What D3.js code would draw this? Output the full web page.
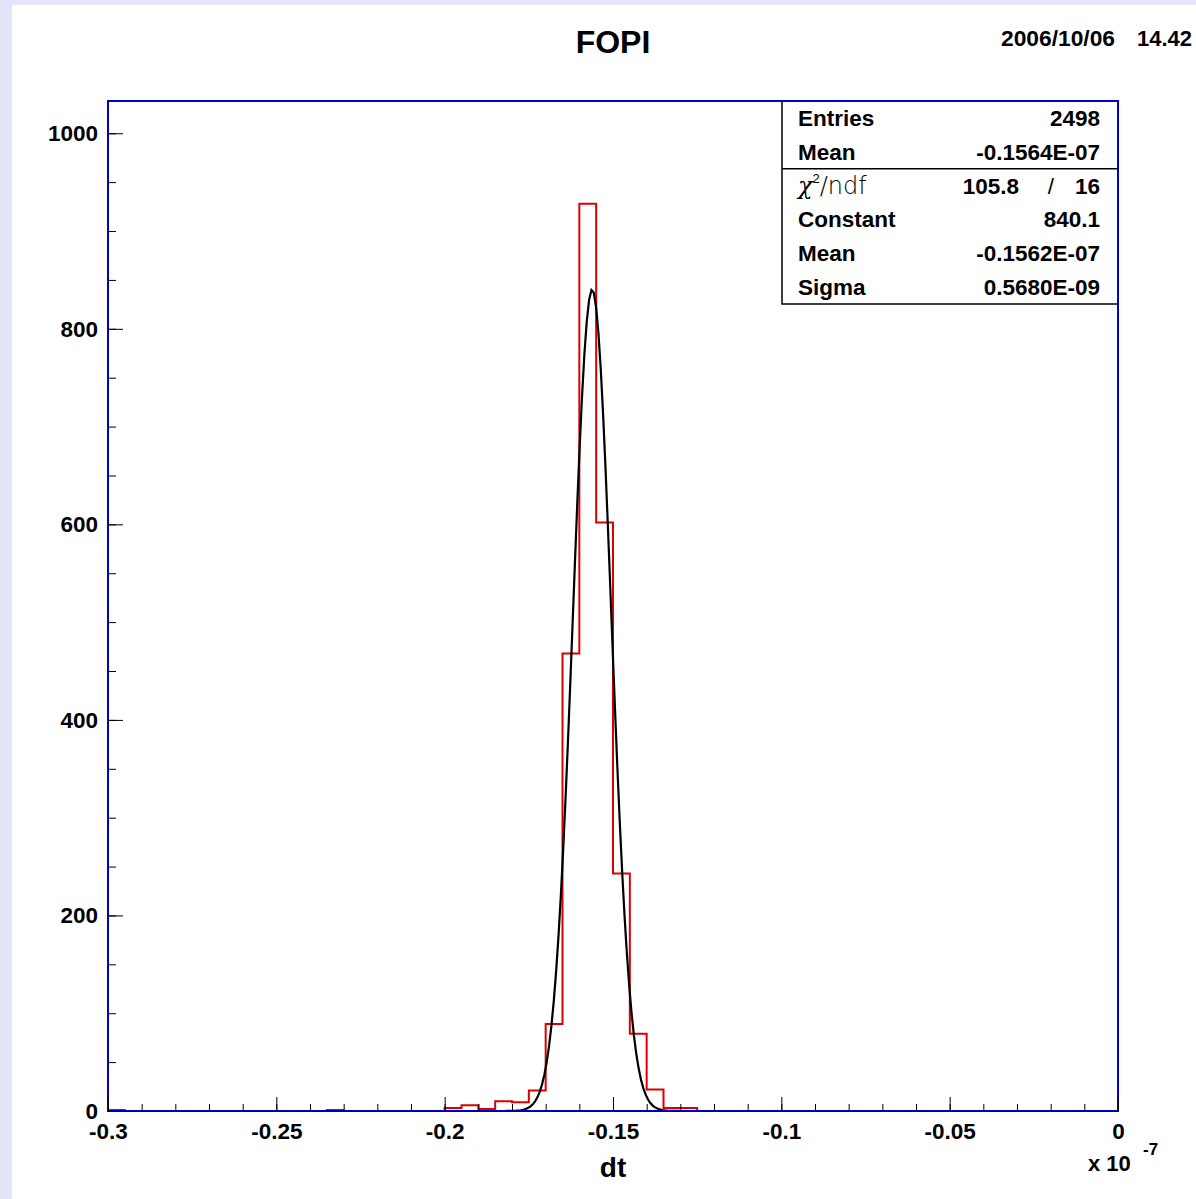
<!DOCTYPE html>
<html>
<head>
<meta charset="utf-8">
<script src="https://cdn.jsdelivr.net/npm/d3@7"></script>
<style>
  body { margin: 0; background: #e5e5f9; }
  svg { display: block; }
  text { font-family: "Liberation Sans", Arial, Helvetica, sans-serif; }
</style>
</head>
<body>
<div id="chart"></div>
<script>
// histogram "dt", 60 bins from -0.3 to 0 (x 10^-7)
var xMin = -0.3, xMax = 0, binWidth = 0.005;
var binCounts = [
  1, 0, 0, 0, 0, 0, 0, 0, 0, 0,
  0, 0, 0, 1, 0, 0, 0, 0, 0, 0,
  3, 6, 2, 10, 9, 21, 89, 468, 928, 602,
  243, 79, 22, 3, 3, 0, 0, 0, 0, 0,
  0, 0, 0, 0, 0, 0, 0, 0, 0, 0,
  0, 0, 0, 0, 0, 0, 0, 0, 0, 0
];

// gaussian fit parameters from the stats box
var fitConstant = 840.1;
var fitMean = -0.1562;
var fitSigma = 0.00568;

var xTicks = [-0.3, -0.25, -0.2, -0.15, -0.1, -0.05, 0];
var xTickLabels = ["-0.3", "-0.25", "-0.2", "-0.15", "-0.1", "-0.05", "0"];
var yTicks = [0, 200, 400, 600, 800, 1000];
var yTickLabels = ["0", "200", "400", "600", "800", "1000"];

var statLabels = ["Entries", "Mean", "chi2", "Constant", "Mean", "Sigma"];
var statValues = ["2498", "-0.1564E-07", "", "840.1", "-0.1562E-07", "0.5680E-09"];
var chi2 = "105.8", ndf = "16";

var svgWidth = 1196, svgHeight = 1199;
var frame = {left: 108, top: 101, right: 1118, bottom: 1111};
var labelSize = 22.5;

var svg = d3.select("#chart").append("svg")
  .attr("width", svgWidth)
  .attr("height", svgHeight);

// white pad
svg.append("rect")
  .attr("x", 12).attr("y", 5)
  .attr("width", svgWidth - 12).attr("height", svgHeight - 5)
  .attr("fill", "#ffffff");

var x = d3.scaleLinear().domain([xMin, xMax]).range([frame.left, frame.right]);
var y = d3.scaleLinear().domain([0, 1033]).range([frame.bottom, frame.top]);

// title + date
svg.append("text")
  .attr("x", 613).attr("y", 53)
  .attr("text-anchor", "middle")
  .attr("font-size", 32).attr("font-weight", "bold")
  .text("FOPI");
svg.append("text")
  .attr("x", 1001).attr("y", 46)
  .attr("font-size", 22).attr("font-weight", "bold")
  .attr("textLength", 114).attr("lengthAdjust", "spacingAndGlyphs")
  .text("2006/10/06");
svg.append("text")
  .attr("x", 1137).attr("y", 46)
  .attr("font-size", 22).attr("font-weight", "bold")
  .attr("textLength", 55).attr("lengthAdjust", "spacingAndGlyphs")
  .text("14.42");

// histogram outline
var histPts = [[xMin, 0]];
binCounts.forEach(function(c, i) {
  histPts.push([xMin + i * binWidth, c]);
  histPts.push([xMin + (i + 1) * binWidth, c]);
});
histPts.push([xMax, 0]);

svg.append("path")
  .datum(histPts)
  .attr("fill", "none")
  .attr("stroke", "#dd0000")
  .attr("stroke-width", 2)
  .attr("d", d3.line().x(d => x(d[0])).y(d => y(d[1])));

// fit curve
var fitX = d3.range(-0.19, -0.12, 0.0007);
var fitPts = fitX.map(v => [v, fitConstant * Math.exp(-0.5 * Math.pow((v - fitMean) / fitSigma, 2))]);
svg.append("path")
  .datum(fitPts)
  .attr("fill", "none")
  .attr("stroke", "#000")
  .attr("stroke-width", 2.2)
  .attr("d", d3.line().x(d => x(d[0])).y(d => y(d[1])));

// frame
svg.append("rect")
  .attr("x", frame.left).attr("y", frame.top)
  .attr("width", frame.right - frame.left)
  .attr("height", frame.bottom - frame.top)
  .attr("fill", "none")
  .attr("stroke", "#0000cc")
  .attr("stroke-width", 2);

// x axis: minor ticks then major
var xMinor = d3.range(0, 31).map(i => xMin + i * 0.01);
svg.append("g")
  .attr("transform", `translate(0, ${frame.bottom})`)
  .call(d3.axisBottom(x).tickValues(xMinor).tickSizeInner(-7).tickSizeOuter(0).tickFormat(""))
  .call(g => g.select(".domain").remove());

var xAxis = svg.append("g")
  .attr("transform", `translate(0, ${frame.bottom})`)
  .call(d3.axisBottom(x).tickValues(xTicks).tickSizeInner(-14).tickSizeOuter(0)
    .tickFormat((d, i) => xTickLabels[i]));
xAxis.select(".domain").attr("stroke", "#000066").attr("stroke-width", 1);
xAxis.selectAll("text")
  .attr("y", 28).attr("dy", 0)
  .attr("font-size", labelSize).attr("font-weight", "bold")
  .attr("font-family", "Liberation Sans, Arial, sans-serif")
  .attr("fill", "#000");

// y axis
var yMinor = d3.range(0, 21).map(i => i * 50);
svg.append("g")
  .attr("transform", `translate(${frame.left}, 0)`)
  .call(d3.axisLeft(y).tickValues(yMinor).tickSizeInner(-8).tickSizeOuter(0).tickFormat(""))
  .call(g => g.select(".domain").remove());

var yAxis = svg.append("g")
  .attr("transform", `translate(${frame.left}, 0)`)
  .call(d3.axisLeft(y).tickValues(yTicks).tickSizeInner(-15).tickSizeOuter(0)
    .tickFormat((d, i) => yTickLabels[i]));
yAxis.select(".domain").remove();
yAxis.selectAll("text")
  .attr("x", -10).attr("dy", "0.33em")
  .attr("font-size", labelSize).attr("font-weight", "bold")
  .attr("font-family", "Liberation Sans, Arial, sans-serif")
  .attr("fill", "#000");

// axis title
svg.append("text")
  .attr("x", 613).attr("y", 1177)
  .attr("text-anchor", "middle")
  .attr("font-size", 28).attr("font-weight", "bold")
  .text("dt");
svg.append("text")
  .attr("x", 1088).attr("y", 1171)
  .attr("font-size", 22).attr("font-weight", "bold")
  .text("x 10");
svg.append("text")
  .attr("x", 1143).attr("y", 1155)
  .attr("font-size", 17).attr("font-weight", "bold")
  .text("-7");

// stats box
var box = {left: 782, top: 101, right: 1118, bottom: 304};
var rowH = (box.bottom - box.top) / statLabels.length;
var stats = svg.append("g");
stats.append("rect")
  .attr("x", box.left).attr("y", box.top + 1)
  .attr("width", box.right - box.left - 1).attr("height", box.bottom - box.top - 1)
  .attr("fill", "#fff");
stats.append("path")
  .attr("d", `M${box.left},${box.top}V${box.bottom}H${box.right}`)
  .attr("fill", "none").attr("stroke", "#000").attr("stroke-width", 1.5);
stats.append("line")
  .attr("x1", box.left).attr("x2", box.right)
  .attr("y1", box.top + 2 * rowH).attr("y2", box.top + 2 * rowH)
  .attr("stroke", "#000").attr("stroke-width", 1.5);

statLabels.forEach(function(lab, i) {
  var yy = box.top + rowH * (i + 0.5) + 8;
  if (lab === "chi2") {
    var t = stats.append("text")
      .attr("x", 798).attr("y", yy)
      .attr("font-size", 24);
    t.append("tspan").attr("font-family", "DejaVu Serif, serif").attr("font-style", "italic").text("\u03c7");
    t.append("tspan").attr("font-size", 13).attr("dy", -11).text("2");
    t.append("tspan").attr("dy", 11).attr("font-family", "DejaVu Sans, sans-serif").attr("font-weight", "200").text("/ndf");
    stats.append("text")
      .attr("x", 1019).attr("y", yy)
      .attr("text-anchor", "end")
      .attr("font-size", labelSize).attr("font-weight", "bold")
      .text(chi2);
    stats.append("text")
      .attr("x", 1051).attr("y", yy)
      .attr("text-anchor", "middle")
      .attr("font-size", labelSize)
      .text("/");
    stats.append("text")
      .attr("x", 1100).attr("y", yy)
      .attr("text-anchor", "end")
      .attr("font-size", labelSize).attr("font-weight", "bold")
      .text(ndf);
    return;
  }
  stats.append("text")
    .attr("x", 798).attr("y", yy)
    .attr("font-size", labelSize).attr("font-weight", "bold")
    .text(lab);
  stats.append("text")
    .attr("x", 1100).attr("y", yy)
    .attr("text-anchor", "end")
    .attr("font-size", labelSize).attr("font-weight", "bold")
    .text(statValues[i]);
});
</script>
</body>
</html>
